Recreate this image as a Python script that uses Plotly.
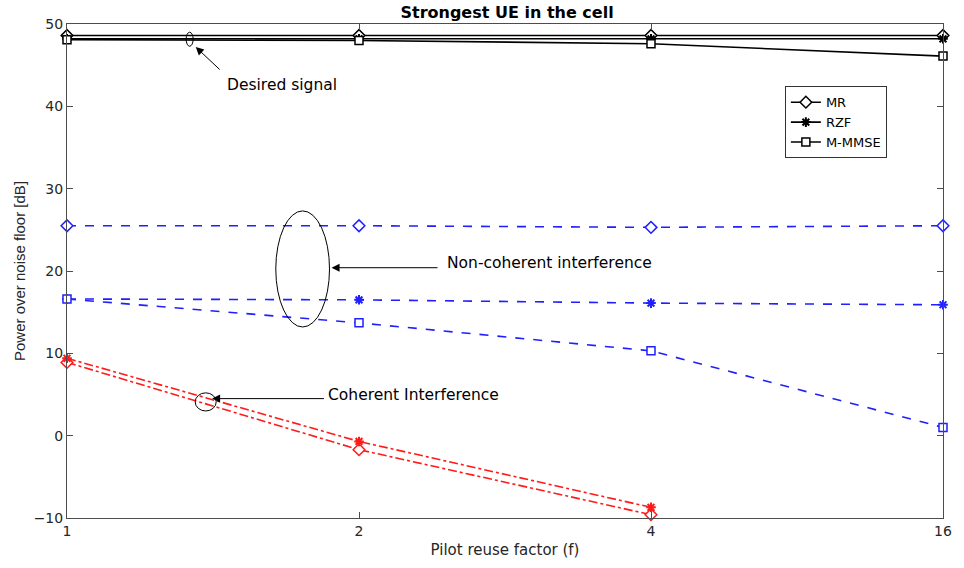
import plotly.graph_objects as go

# Pilot reuse factors (equally spaced on the axis)
reuse_factors = ["1", "2", "4", "16"]

# Desired signal power [dB]
desired_mr = [48.6, 48.6, 48.6, 48.6]
desired_rzf = [48.2, 48.2, 48.2, 48.2]
desired_mmmse = [48.1, 48.0, 47.6, 46.1]

# Non-coherent interference [dB]
noncoh_mr = [25.5, 25.5, 25.3, 25.5]
noncoh_rzf = [16.6, 16.5, 16.1, 15.9]
noncoh_mmmse = [16.6, 13.7, 10.3, 1.0]

# Coherent interference [dB] (vanishes at f = 16)
coh_factors = ["1", "2", "4"]
coh_mr = [8.9, -1.7, -9.6]
coh_rzf = [9.4, -0.7, -8.7]

WIDE = "DejaVu Sans, Verdana, sans-serif"
NARROW = "Liberation Sans, Arial, sans-serif"
AX = "#4d4d4d"

fig = go.Figure()

def add(x, y, color, dash, symbol, name=None, legend=False):
    star = symbol.startswith("asterisk")
    fig.add_trace(go.Scatter(
        x=x, y=y, mode="lines+markers", name=name, showlegend=legend,
        cliponaxis=False,
        line=dict(color=color, width=1.6, dash=dash),
        marker=dict(symbol=symbol, size=9 if symbol == "diamond" else 8,
                    color=color if star else "white",
                    line=dict(color=color, width=2 if star else 1.5)),
    ))

# Desired signal
add(reuse_factors, desired_mr, "black", "solid", "diamond", "MR", True)
add(reuse_factors, desired_rzf, "black", "solid", "asterisk-open", "RZF", True)
add(reuse_factors, desired_mmmse, "black", "solid", "square", "M-MMSE", True)

# Non-coherent interference
add(reuse_factors, noncoh_mr, "#1f1fff", "dash", "diamond")
add(reuse_factors, noncoh_rzf, "#1f1fff", "dash", "asterisk-open")
add(reuse_factors, noncoh_mmmse, "#1f1fff", "dash", "square")

# Coherent interference
add(coh_factors, coh_mr, "#ff1a1a", "dashdot", "diamond")
add(coh_factors, coh_rzf, "#ff1a1a", "dashdot", "asterisk-open")

# Ellipses marking the curve groups
ell = dict(type="circle", xref="x", yref="y", line=dict(color="black", width=1))
fig.add_shape(x0=0.408, x1=0.432, y0=47.3, y1=49.0, **ell)
fig.add_shape(x0=0.715, x1=0.899, y0=13.2, y1=27.3, **ell)
fig.add_shape(x0=0.439, x1=0.511, y0=3.0, y1=5.2, **ell)

arrow = dict(xref="x", yref="y", axref="x", ayref="y", showarrow=True,
             arrowhead=2, arrowsize=1.6, arrowwidth=1, arrowcolor="black", text="")
fig.add_annotation(x=0.441, y=47.2, ax=0.528, ay=44.3, **arrow)
fig.add_annotation(x=0.906, y=20.4, ax=1.274, ay=20.4, **arrow)
fig.add_annotation(x=0.497, y=4.5, ax=0.885, ay=4.5, **arrow)

txt = dict(xref="x", yref="y", showarrow=False, font=dict(family=WIDE, size=15.5, color="black"))
fig.add_annotation(x=0.736, y=42.6, text="Desired signal", **txt)
fig.add_annotation(x=1.651, y=21.0, text="Non-coherent interference", **txt)
fig.add_annotation(x=1.185, y=4.9, text="Coherent Interference", **txt)

fig.update_layout(
    width=964, height=568,
    margin=dict(l=67, r=16, t=24, b=50),
    plot_bgcolor="white", paper_bgcolor="white",
    font=dict(family=WIDE, size=14, color="#262626"),
    title=dict(text="<b>Strongest UE in the cell</b>", x=0.526, xanchor="center",
               y=0.979, yanchor="middle", font=dict(family=WIDE, size=16, color="black")),
    legend=dict(x=0.8195, y=0.874, xanchor="left", yanchor="top",
                bordercolor="#333333", borderwidth=1, bgcolor="white",
                font=dict(family=WIDE, size=13, color="black"),
                tracegroupgap=0),
)
fig.update_xaxes(
    type="category", range=[0, 3], showgrid=False, zeroline=False,
    showline=True, linecolor=AX, linewidth=1, mirror="ticks",
    ticks="inside", ticklen=6, tickcolor=AX,
    tickfont=dict(family=WIDE, size=14),
    title=dict(text="Pilot reuse factor (f)", standoff=6, font=dict(family=WIDE, size=15)),
)
fig.update_yaxes(
    range=[-10, 50], dtick=10, showgrid=False, zeroline=False,
    showline=True, linecolor=AX, linewidth=1, mirror="ticks",
    ticks="inside", ticklen=6, tickcolor=AX,
    tickfont=dict(family=WIDE, size=14),
    title=dict(text="Power over noise floor [dB]", standoff=4,
               font=dict(family=NARROW, size=15)),
)

fig.write_html("out.html")
